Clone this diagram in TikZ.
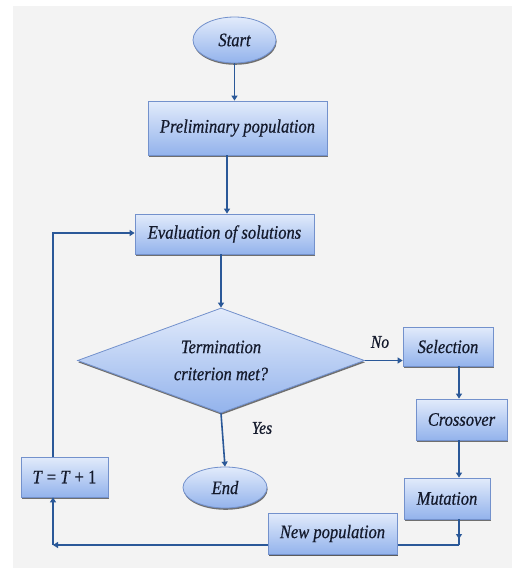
\documentclass[tikz,border=0pt]{standalone}
\usepackage{fontspec}
\setmainfont{Liberation Serif}[FakeStretch=0.87,FakeBold=0.6]
\usetikzlibrary{shapes.geometric,arrows.meta,shadows}
\definecolor{bg}{HTML}{F3F3F3}
\definecolor{topfill}{HTML}{E2EBFB}
\definecolor{botfill}{HTML}{93B3EC}
\definecolor{edge}{HTML}{7391CC}
\definecolor{arr}{HTML}{2A5898}
\definecolor{txt}{HTML}{141A2C}
\tikzset{
  every node/.style={font=\fontsize{19}{21}\selectfont\itshape, text=txt},
  blk/.style={draw=edge, line width=0.8pt, top color=topfill, bottom color=botfill,
    drop shadow={shadow xshift=0.6pt, shadow yshift=-1.8pt, fill=black!65, opacity=0.85}},
  boxnode/.style={blk, rectangle, inner sep=0pt},
  ovalnode/.style={blk, ellipse, inner sep=0pt},
  dianode/.style={blk, diamond, inner sep=0pt},
  conn/.style={draw=arr, line width=1.6pt, -{Triangle[length=5pt,width=6pt]}},
  plain/.style={draw=arr, line width=1.6pt},
  lbl/.style={font=\fontsize{18}{20}\selectfont\itshape}
}
\begin{document}
\begin{tikzpicture}[x=1pt,y=-1pt]
\useasboundingbox (0,0) rectangle (512,568);
\fill[white] (0,0) rectangle (512,568);
\fill[bg] (13,6) rectangle (512,568);

\node[ovalnode, minimum width=83pt, minimum height=46pt] (start) at (234.5,40) {Start};
\node[boxnode, minimum width=179pt, minimum height=54pt] (prel) at (237.5,128) {Preliminary population};
\node[boxnode, minimum width=179pt, minimum height=40pt] (eval) at (224.5,234) {Evaluation of solutions};
\node[dianode, minimum width=287pt, minimum height=105pt, aspect=2.73] (term) at (221,360.5) {};
\node[align=center, font=\fontsize{19}{27}\selectfont\itshape] (termtxt) at (221,360.5) {Termination\\criterion met?};
\node[boxnode, minimum width=90pt, minimum height=39pt] (sel) at (448,346.5) {Selection};
\node[boxnode, minimum width=91pt, minimum height=41pt] (cross) at (461.5,419.5) {Crossover};
\node[boxnode, minimum width=86pt, minimum height=41pt] (mut) at (447,498.5) {Mutation};
\node[boxnode, minimum width=129pt, minimum height=41pt] (newpop) at (332.5,533.5) {New population};
\node[boxnode, minimum width=87pt, minimum height=40pt] (tbox) at (64.5,477) {\upshape\textit{T} = \textit{T} + 1};
\node[ovalnode, minimum width=84pt, minimum height=41pt] (endn) at (225,487.5) {End};
\node[lbl] (no) at (380,342) {No};
\node[lbl] (yes) at (262,428) {Yes};

\coordinate (c1) at (459,545);
\coordinate (c2) at (53,545);
\coordinate (c3) at (53,233);

\draw[conn] (start.south) -- (start.south |- prel.north);
\draw[conn] (prel.south -| 227,0) -- (227,0 |- eval.north);
\draw[conn] (eval.south -| term.north) -- (term.north);
\draw[conn] (term.east) -- (term.east -| sel.west);
\draw[conn] (sel.south -| 459,0) -- (459,0 |- cross.north);
\draw[conn] (cross.south -| 459,0) -- (459,0 |- mut.north);
\draw[conn] (term.south) -- (endn.north);
\draw[conn] (mut.south -| 459,0) -- (459,539);
\draw[plain] (459,538) -- (c1);
\draw[conn] (c1) -- (c2);
\draw[conn] (c2) -- (tbox.south -| c2);
\draw[conn, line width=1.3pt] (tbox.north -| c3) -- (c3) -- (eval.west |- c3);
\node[boxnode, minimum width=129pt, minimum height=41pt] at (newpop) {New population};
\end{tikzpicture}
\end{document}
